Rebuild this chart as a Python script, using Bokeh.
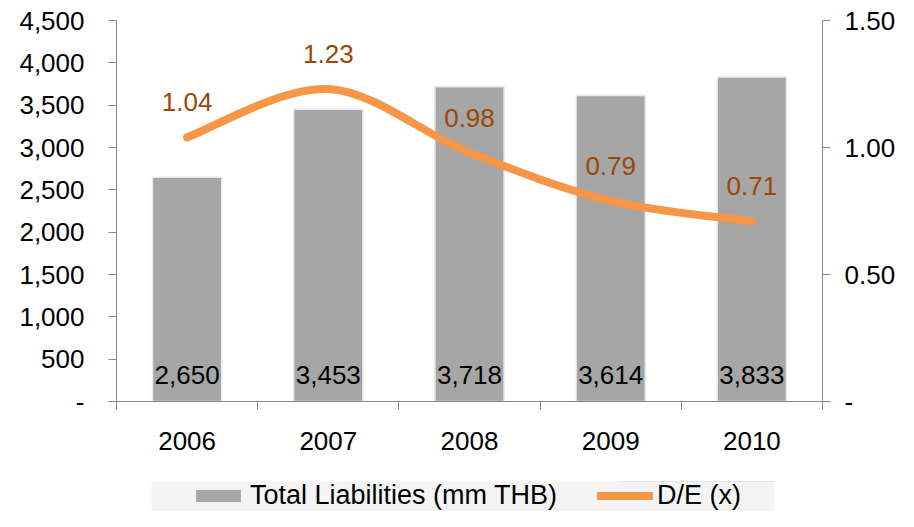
import numpy as np
from bokeh.plotting import figure
from bokeh.layouts import column, row
from bokeh.core.properties import value
from bokeh.models import (Range1d, LinearAxis, FixedTicker, NumeralTickFormatter,
                          ColumnDataSource, LabelSet, Legend, LegendItem, Spacer)
from bokeh.embed import file_html
from bokeh.resources import INLINE

# ---- data ----
years = ["2006", "2007", "2008", "2009", "2010"]
liabilities = [2650, 3453, 3718, 3614, 3833]
de_ratio = [1.04, 1.23, 0.98, 0.79, 0.71]
liab_labels = ["2,650", "3,453", "3,718", "3,614", "3,833"]
de_labels = ["1.04", "1.23", "0.98", "0.79", "0.71"]
left_ticks = [0, 500, 1000, 1500, 2000, 2500, 3000, 3500, 4000, 4500]
right_ticks = [0.0, 0.5, 1.0, 1.5]
series_names = ["Total Liabilities (mm THB)", "D/E (x)"]

FONT = "Liberation Sans"
FS = "26px"
LEG_FS = "27px"
AXIS_COLOR = "#868686"
BAR_COLOR = "#A6A6A6"
BAR_EDGE = "#E8E8E8"
LINE_COLOR = "#F79646"
LABEL_COLOR = "#984807"

xs = np.arange(1, len(years) + 1, dtype=float)

p = figure(width=898, height=481, output_backend="svg", toolbar_location=None,
           x_range=Range1d(0.5, len(years) + 0.5), y_range=Range1d(0, 4500),
           min_border_left=116, min_border_right=76, min_border_top=20,
           min_border_bottom=80, x_axis_type=None, y_axis_type=None)
p.outline_line_color = None
p.xgrid.visible = False
p.ygrid.visible = False

# x axis: labels at centers, tick marks at boundaries (minor ticks)
xaxis = LinearAxis(ticker=FixedTicker(ticks=list(xs),
                                      minor_ticks=list(np.arange(0.5, len(years) + 1, 1.0))))
xaxis.major_label_overrides = {int(v): y for v, y in zip(xs, years)}
xaxis.major_tick_out = 0
xaxis.major_tick_in = 0
xaxis.minor_tick_out = 8
xaxis.minor_tick_in = 0
xaxis.minor_tick_line_color = AXIS_COLOR
xaxis.axis_line_color = AXIS_COLOR
xaxis.major_label_text_font = FONT
xaxis.major_label_text_font_size = FS
xaxis.major_label_text_color = "black"
xaxis.major_label_standoff = 22
p.add_layout(xaxis, "below")

# left axis
yaxis = LinearAxis(ticker=FixedTicker(ticks=left_ticks, minor_ticks=[]))
yaxis.formatter = NumeralTickFormatter(format="0,0")
yaxis.major_label_overrides = {0: "-"}
yaxis.major_tick_out = 8
yaxis.major_tick_in = 0
yaxis.minor_tick_out = 0
yaxis.minor_tick_in = 0
yaxis.major_tick_line_color = AXIS_COLOR
yaxis.axis_line_color = AXIS_COLOR
yaxis.major_label_text_font = FONT
yaxis.major_label_text_font_size = FS
yaxis.major_label_text_color = "black"
yaxis.major_label_standoff = 24
p.add_layout(yaxis, "left")

# right axis
p.extra_y_ranges = {"de": Range1d(0, 1.5)}
raxis = LinearAxis(y_range_name="de", ticker=FixedTicker(ticks=right_ticks, minor_ticks=[]))
raxis.formatter = NumeralTickFormatter(format="0.00")
raxis.major_label_overrides = {0: "-"}
raxis.major_tick_out = 8
raxis.major_tick_in = 0
raxis.minor_tick_out = 0
raxis.minor_tick_in = 0
raxis.major_tick_line_color = AXIS_COLOR
raxis.axis_line_color = AXIS_COLOR
raxis.major_label_text_font = FONT
raxis.major_label_text_font_size = FS
raxis.major_label_text_color = "black"
raxis.major_label_standoff = 14
p.add_layout(raxis, "right")

# bars
src = ColumnDataSource(dict(x=xs, top=liabilities, lab=liab_labels,
                            zero=[0] * len(years), de=de_ratio, delab=de_labels))
p.vbar(x="x", top="top", width=0.49, source=src, fill_color=BAR_COLOR,
       line_color=BAR_EDGE, line_width=1.5)

# smooth D/E line (Bezier segments through the data points)
P = np.column_stack([xs, np.array(de_ratio, dtype=float)])
Pext = np.vstack([P[0], P, P[-1]])
x0, y0, x1, y1, cx0, cy0, cx1, cy1 = [], [], [], [], [], [], [], []
for i in range(len(P) - 1):
    a, b, c, d = Pext[i], Pext[i + 1], Pext[i + 2], Pext[i + 3]
    c0 = b + (c - a) / 6.0
    c1 = c - (d - b) / 6.0
    x0.append(b[0]); y0.append(b[1]); x1.append(c[0]); y1.append(c[1])
    cx0.append(c0[0]); cy0.append(c0[1]); cx1.append(c1[0]); cy1.append(c1[1])
p.bezier(x0=x0, y0=y0, x1=x1, y1=y1, cx0=cx0, cy0=cy0, cx1=cx1, cy1=cy1,
         y_range_name="de", line_color=LINE_COLOR, line_width=8, line_cap="round")

# labels
p.add_layout(LabelSet(x="x", y="zero", text="lab", source=src, text_align="center",
                      text_baseline="middle", y_offset=27, text_font=value(FONT),
                      text_font_size=value(FS), text_color="black"))
p.add_layout(LabelSet(x="x", y="de", text="delab", source=src, y_range_name="de",
                      text_align="center", text_baseline="middle", y_offset=35,
                      text_font=value(FONT), text_font_size=value(FS),
                      text_color=LABEL_COLOR))

# legend strip (separate small figure below the chart, on a light band)
lf = figure(width=623, height=30, output_backend="svg", toolbar_location=None,
            x_range=Range1d(0, 1), y_range=Range1d(-2, -1),
            min_border_left=0, min_border_right=0, min_border_top=0,
            min_border_bottom=0, x_axis_type=None, y_axis_type=None)
lf.outline_line_color = None
lf.xgrid.visible = False
lf.ygrid.visible = False
lf.background_fill_color = "#F4F4F4"
lf.border_fill_color = "#F4F4F4"
# same series, drawn outside the strip's visible range; only their legend swatches show
r_bar = lf.vbar(x=xs, top=liabilities, width=0.5, fill_color=BAR_COLOR, line_color=None)
r_line = lf.line(x=xs, y=de_ratio, line_color=LINE_COLOR, line_width=8, line_cap="round")
legend = Legend(items=[LegendItem(label=series_names[0], renderers=[r_bar]),
                       LegendItem(label=series_names[1], renderers=[r_line])],
                orientation="horizontal", location=(39, 0),
                label_text_font=FONT, label_text_font_size=LEG_FS, label_text_color="black",
                glyph_width=56, glyph_height=15, label_standoff=4, spacing=40,
                padding=0, margin=0, label_height=30,
                background_fill_alpha=0, border_line_color=None)
lf.add_layout(legend, "center")

layout = column(p, row(Spacer(width=151, height=30), lf, spacing=0), spacing=0)
open("out.html", "w").write(file_html(layout, INLINE))
